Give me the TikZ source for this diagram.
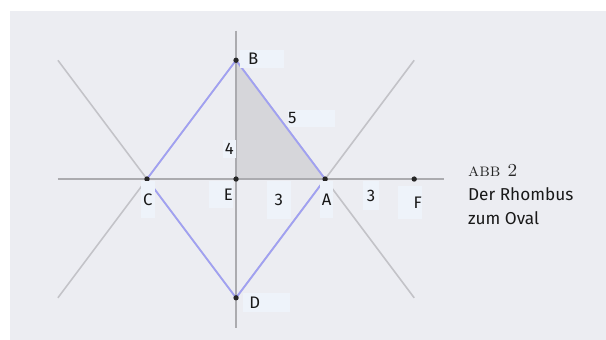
\documentclass[tikz,border=0pt]{standalone}
\usepackage{fontspec}
\setsansfont{Fira Sans}
\definecolor{paper}{HTML}{ECEDF2}
\definecolor{tagbg}{HTML}{EEF3FA}
\definecolor{axisgray}{HTML}{ABABAF}
\definecolor{linegray}{HTML}{C3C3C8}
\definecolor{rhombblue}{HTML}{A0A0F2}
\definecolor{trigray}{HTML}{D6D6DA}
\tikzset{
  tag/.style={fill=tagbg,inner sep=0pt,text=black!90,font=\sffamily\fontsize{16}{19}\selectfont},
  pt/.style={fill=black!85}
}
\begin{document}
\begin{tikzpicture}[scale=1]
  \useasboundingbox (-7.95,-5.42) rectangle (12.46,6.03);
  \fill[paper] (-7.61,5.66) rectangle (12.46,-5.42);
  % points
  \coordinate (E) at (0,0);
  \coordinate (A) at (3,0);
  \coordinate (B) at (0,4);
  \coordinate (C) at (-3,0);
  \coordinate (D) at (0,-4);
  \coordinate (F) at (6,0);
  \coordinate (ul) at (-6,4);
  \coordinate (ur) at (6,4);
  \coordinate (ll) at (-6,-4);
  \coordinate (lr) at (6,-4);
  \coordinate (xl) at (-6,0);
  \coordinate (xr) at (7,0);
  \coordinate (yt) at (0,5);
  \coordinate (yb) at (0,-5);
  \fill[trigray] (E) -- (A) -- (B) -- cycle;
  \draw[linegray,line width=1.5pt] (ll) -- (B) (lr) -- (B) (ul) -- (D) (ur) -- (D);
  \draw[axisgray,line width=1.5pt] (xl) -- (xr) (yt) -- (yb);
  \draw[rhombblue,line width=1.7pt,line join=round] (A) -- (B) -- (C) -- (D) -- cycle;
  \foreach \p in {A,B,C,D,E,F} \fill[pt] (\p) circle (0.09);
  % labels
  \node[tag,anchor=west,text width=1.5cm,minimum height=0.6cm,align=left] (lB) at (0.12,4.04) {\hspace{0.28cm}B};
  \node[tag,anchor=west,text width=1.58cm,minimum height=0.57cm,align=left] (l5) at (1.75,2.04) {5};
  \node[tag,anchor=east,minimum width=0.44cm,minimum height=0.6cm] (l4) at (0,1.01) {4};
  \node[tag,minimum width=0.47cm,minimum height=1.24cm] (lC) at (-2.97,-0.69) {C};
  \node[tag,anchor=north east,text width=0.81cm,minimum height=0.91cm,align=right] (lE) at (-0.10,-0.07) {E\hspace{0.12cm}};
  \node[tag,minimum width=0.81cm,minimum height=1.28cm] (l3a) at (1.44,-0.71) {3};
  \node[tag,minimum width=0.44cm,minimum height=1.24cm] (lA) at (3.05,-0.69) {A};
  \node[tag,anchor=north,minimum width=0.53cm,minimum height=0.97cm] (l3b) at (4.55,-0.07) {3};
  \node[tag,anchor=north east,text width=0.81cm,minimum height=1.11cm,align=right] (lF) at (6.26,-0.24) {F\hspace{0.07cm}};
  \node[tag,anchor=west,text width=1.58cm,minimum height=0.64cm,align=left] (lD) at (0.24,-4.16) {\hspace{0.2cm}D};
  % caption
  \node[anchor=base west,inner sep=0pt,text=black!85,font=\fontsize{17.5}{20}\selectfont\addfontfeature{LetterSpace=8}] (abb) at (7.81,0.07) {\textsc{abb 2}};
  \node[anchor=base west,inner sep=0pt,align=left,text=black!90,font=\sffamily\fontsize{16.5}{22.5}\selectfont] (cap) at (7.81,-1.52) {Der Rhombus\\zum Oval};
\end{tikzpicture}
\end{document}
